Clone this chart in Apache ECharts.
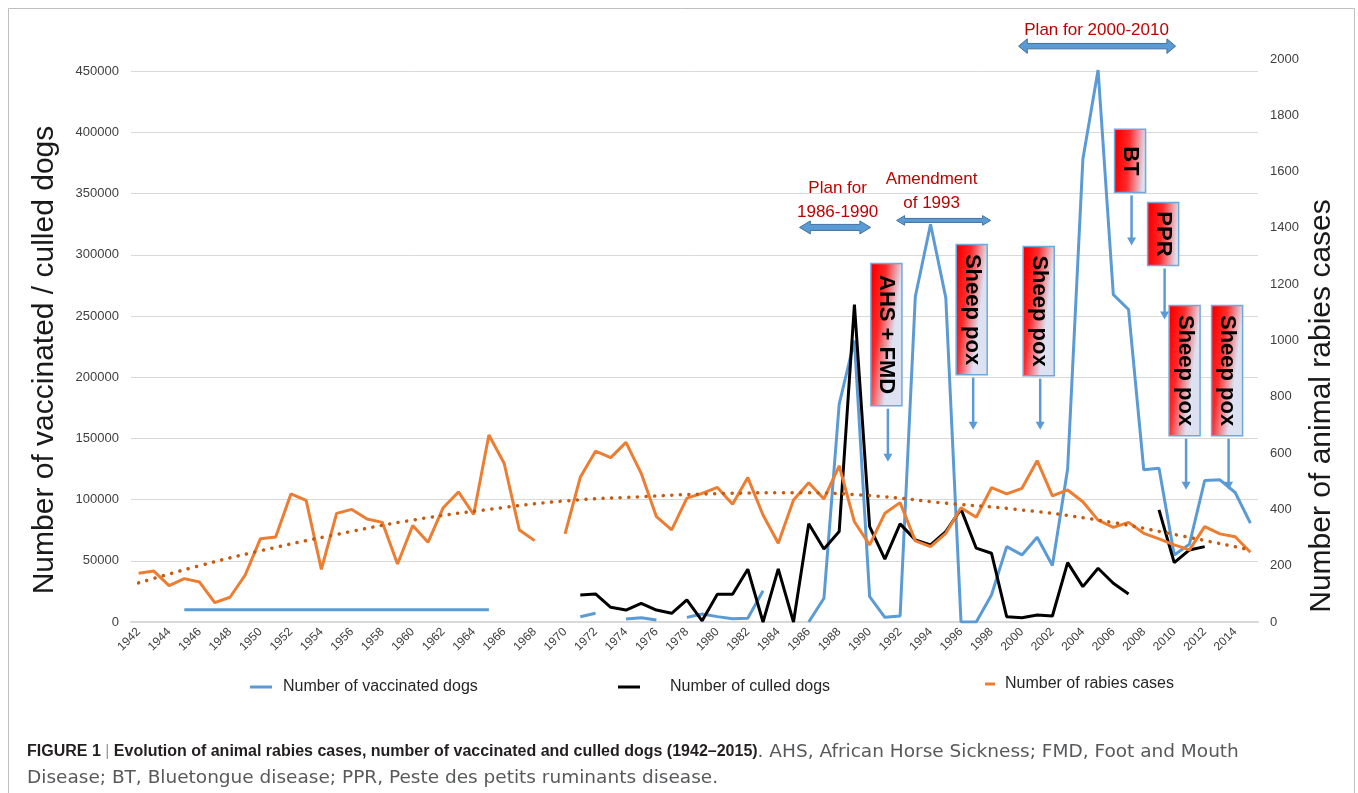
<!DOCTYPE html>
<html>
<head>
<meta charset="utf-8">
<title>Animal rabies cases, vaccinated and culled dogs</title>
<script src="https://cdn.jsdelivr.net/npm/echarts@6/dist/echarts.min.js"></script>
<style>
  html, body { margin: 0; padding: 0; background: #fff; }
  #chart { width: 1358px; height: 793px; }
</style>
</head>
<body>
<div id="chart"></div>
<script>
// years on the x axis
var years = [];
for (var y = 1942; y <= 2015; y++) years.push(String(y));

// number of vaccinated dogs (left axis)
var vaccinated = [
  null, null, null,
  10000, 10000, 10000, 10000, 10000, 10000, 10000, 10000, 10000, 10000, 10000,
  10000, 10000, 10000, 10000, 10000, 10000, 10000, 10000, 10000, 10000,
  null, null, null, null, null,
  4300, 7100, null, 2500, 3500, 1600, null, 3800, 6500, 4400, 2700, 3000, 25600,
  null, null, 0, 19400, 178000, 230000, 20700, 3800, 4900, 266000, 325000, 265000,
  0, 0, 22000, 61600, 54800, 69300, 46100, 125000, 378000, 451000, 267500, 255300,
  124400, 125700, 54800, 63600, 115600, 116200, 105800, 80800
];

// number of culled dogs (left axis)
var culled = [
  null, null, null, null, null, null, null, null, null, null,
  null, null, null, null, null, null, null, null, null, null,
  null, null, null, null, null, null, null, null, null,
  22100, 22900, 12000, 9800, 15300, 9800, 7100, 18000, 1000, 22700, 22700, 43100,
  0, 43400, 0, 80200, 59700, 73900, 259400, 78000, 51300, 80200, 67100, 63000, 73900,
  92200, 60300, 56200, 4300, 3500, 5700, 4900, 48500, 28900, 43900, 31700, 22900,
  null, 91600, 48500, 58900, 61600, null, null, null
];

// number of animal rabies cases (right axis)
var rabies = [
  173, 181, 129, 154, 142, 69, 88, 167, 296, 302, 455, 432, 187, 386, 400, 366, 354,
  206, 343, 283, 406, 462, 382, 664, 564, 327, 289, null,
  313, 514, 607, 584, 638, 528, 374, 327, 440, 457, 478, 418, 513, 380, 280, 433,
  495, 437, 555, 356, 274, 386, 424, 288, 268, 315, 406, 372, 477, 455, 475, 573,
  448, 469, 427, 362, 336, 354, 315, 295, 274, 256, 339, 313, 303, 248
];

// dotted trend of rabies cases, read at a few years
var trendYears = ['1942', '1946', '1950', '1955', '1960', '1965', '1970', '1975',
  '1980', '1985', '1990', '1995', '2000', '2005', '2010', '2015'];
var trendValues = [139, 200, 253, 311, 362, 400, 430, 445, 456, 459, 449, 422, 398, 362, 311, 256];

// disease boxes: label, year of centre, top / bottom / arrow tip (left axis units)
var boxLabels = ['AHS + FMD', 'Sheep pox', 'Sheep pox', 'BT', 'PPR', 'Sheep pox', 'Sheep pox'];
var boxYears = [1991.1, 1996.7, 2001.1, 2007.1, 2009.27, 2010.68, 2013.47];
var boxTop = [292900, 308500, 306800, 402600, 342800, 258600, 258600];
var boxBottom = [176700, 202100, 201300, 351000, 291300, 152200, 152200];
var boxArrowTip = [130900, 157100, 157100, 307600, 247100, 108000, 108000];

// control plans: label, arrow span, arrow level, text centre
var planLabels = ['Plan for\n1986-1990', 'Amendment\nof 1993', 'Plan for 2000-2010'];
var planFrom = [1985.4, 1991.77, 1999.78];
var planTo = [1990.06, 1997.94, 2010.09];
var planLevel = [322400, 328100, 470500];
var planTextYear = [1987.9, 1994.07, 2004.9];
var planTextLevel = [344900, 352200, 483600];

var font = 'Liberation Sans, Arial, sans-serif';

let chartDom = document.getElementById('chart');
let myChart = echarts.init(chartDom);

var option = {
  animation: false,
  backgroundColor: '#fff',
  title: {
    left: 22,
    top: 734,
    text: '{b|FIGURE 1 }{s||}{b| Evolution of animal rabies cases, number of vaccinated and culled dogs (1942\u20132015)}{n|. AHS, African Horse Sickness; FMD, Foot and Mouth}\n{n|Disease; BT, Bluetongue disease; PPR, Peste des petits ruminants disease.}',
    textStyle: {
      rich: {
        b: { fontFamily: font, fontSize: 16, fontWeight: 'bold', color: '#231f20', lineHeight: 26 },
        n: { fontFamily: 'DejaVu Sans, sans-serif', fontSize: 18.5, fontWeight: 'normal', color: '#58595b', lineHeight: 26 },
        s: { fontFamily: font, fontSize: 16, fontWeight: 'normal', color: '#9a9a9a', lineHeight: 26 }
      }
    }
  },
  legend: [
    {
      data: ['Number of vaccinated dogs'], left: 245, top: 674, icon: 'rect',
      itemWidth: 22, itemHeight: 3,
      textStyle: { fontFamily: font, fontSize: 16, color: '#262626', padding: [0, 0, 0, 6] }
    },
    {
      data: ['Number of culled dogs'], left: 613, top: 674, icon: 'rect',
      itemWidth: 22, itemHeight: 3,
      textStyle: { fontFamily: font, fontSize: 16, color: '#262626', padding: [0, 0, 0, 25] }
    },
    {
      data: ['Number of rabies cases'], left: 980, top: 671, icon: 'rect',
      itemWidth: 10, itemHeight: 3,
      textStyle: { fontFamily: font, fontSize: 16, color: '#262626', padding: [0, 0, 0, 5] }
    }
  ],
  grid: { left: 131, right: 100, top: 59, bottom: 171 },
  xAxis: {
    type: 'category',
    data: years,
    boundaryGap: true,
    axisTick: { show: false },
    axisLine: { lineStyle: { color: '#d9d9d9', width: 2 } },
    axisLabel: { interval: 1, rotate: 45, fontFamily: font, fontSize: 12, color: '#404040', margin: 8 }
  },
  yAxis: [
    {
      type: 'value', position: 'left', min: 0, max: 460000, interval: 50000,
      axisLine: { show: false }, axisTick: { show: false },
      axisLabel: {
        fontFamily: font, fontSize: 13, color: '#404040', margin: 12,
        formatter: function (v) { return v > 450000 ? '' : String(v); }
      },
      splitLine: { lineStyle: { color: '#d9d9d9', width: 1 }, showMaxLine: false }
    },
    {
      type: 'value', position: 'right', min: 0, max: 2000, interval: 200,
      axisLine: { show: false }, axisTick: { show: false },
      axisLabel: {
        fontFamily: font, fontSize: 13, color: '#404040', margin: 12,
        formatter: function (v) { return String(v); }
      },
      splitLine: { show: false }
    }
  ],
  series: [
    {
      name: 'Number of vaccinated dogs', type: 'line', yAxisIndex: 0, data: vaccinated,
      symbol: 'none', connectNulls: false, color: '#5b9bd5',
      lineStyle: { width: 3, color: '#5b9bd5' }, z: 2
    },
    {
      name: 'Number of culled dogs', type: 'line', yAxisIndex: 0, data: culled,
      symbol: 'none', connectNulls: false, color: '#000',
      lineStyle: { width: 3, color: '#000' }, z: 3
    },
    {
      name: 'Number of rabies cases', type: 'line', yAxisIndex: 1, data: rabies,
      symbol: 'none', connectNulls: false, color: '#ed7d31',
      lineStyle: { width: 3, color: '#ed7d31' }, z: 4
    },
    {
      name: 'trend', type: 'line', yAxisIndex: 1,
      data: trendYears.map(function (yr, i) { return [yr, trendValues[i]]; }),
      symbol: 'none', smooth: true, connectNulls: true, color: '#c55a11',
      lineStyle: { width: 3.5, color: '#c55a11', type: [0.1, 8.5], cap: 'round' }, z: 5
    }
  ]
};
myChart.setOption(option);

// annotations placed through the axes
var x0 = myChart.convertToPixel({ xAxisIndex: 0 }, years[0]);
var x1 = myChart.convertToPixel({ xAxisIndex: 0 }, years[years.length - 1]);
var band = (x1 - x0) / (years.length - 1);
function xAt(yr) { return x0 + (yr - 1942) * band; }
function yAt(v) { return myChart.convertToPixel({ yAxisIndex: 0 }, v); }

var blue = '#5b9bd5';
var graphics = [];

// outer frame
graphics.push({
  type: 'rect', silent: true, z: 0,
  shape: { x: 8.5, y: 8.5, width: 1346, height: 820 },
  style: { fill: null, stroke: '#bfbfbf', lineWidth: 1 }
});

// axis titles
graphics.push({
  type: 'text', x: 45, y: 360, rotation: Math.PI / 2,
  style: { text: 'Number of vaccinated / culled dogs', font: '30px ' + font, fill: '#1a1a1a', align: 'center', verticalAlign: 'middle' }
});
graphics.push({
  type: 'text', x: 1322, y: 406, rotation: Math.PI / 2,
  style: { text: 'Number of animal rabies cases', font: '30px ' + font, fill: '#1a1a1a', align: 'center', verticalAlign: 'middle' }
});

// double arrows for the plans
var shaft = [3, 2, 2.7], head = [6.5, 4.8, 7.3], headLen = [10.7, 8, 8.7];
planLabels.forEach(function (label, i) {
  var a = xAt(planFrom[i]), b = xAt(planTo[i]), c = yAt(planLevel[i]);
  var s = shaft[i], h = head[i], L = headLen[i];
  graphics.push({
    type: 'polygon', z: 10,
    shape: { points: [[a, c], [a + L, c - h], [a + L, c - s], [b - L, c - s], [b - L, c - h],
      [b, c], [b - L, c + h], [b - L, c + s], [a + L, c + s], [a + L, c + h]] },
    style: { fill: blue, stroke: '#41719c', lineWidth: 1 }
  });
  graphics.push({
    type: 'text', z: 10, x: xAt(planTextYear[i]), y: yAt(planTextLevel[i]),
    style: { text: label, font: '17px ' + font, fill: '#c00000', align: 'center', verticalAlign: 'middle', lineHeight: 24 }
  });
});

// disease boxes with arrows
boxLabels.forEach(function (label, i) {
  var cx = xAt(boxYears[i]), top = yAt(boxTop[i]), bottom = yAt(boxBottom[i]), tip = yAt(boxArrowTip[i]);
  var w = 31;
  graphics.push({
    type: 'rect', z: 10,
    shape: { x: cx - w / 2, y: top, width: w, height: bottom - top },
    style: {
      fill: new echarts.graphic.LinearGradient(0, 0, 1, 0.03, [
        { offset: 0, color: '#f5002a' },
        { offset: 0.12, color: '#ff0000' },
        { offset: 0.5, color: '#ff2a2a' },
        { offset: 1, color: '#dde2f2' }
      ]),
      stroke: '#6fa8dc', lineWidth: 1.5
    }
  });
  graphics.push({
    type: 'text', z: 11, x: cx, y: (top + bottom) / 2, rotation: -Math.PI / 2,
    style: { text: label, font: 'bold 22px ' + font, fill: '#000', align: 'center', verticalAlign: 'middle' }
  });
  graphics.push({
    type: 'line', z: 10,
    shape: { x1: cx + 1.5, y1: bottom + 3, x2: cx + 1.5, y2: tip - 6 },
    style: { stroke: blue, lineWidth: 2.5 }
  });
  graphics.push({
    type: 'polygon', z: 10,
    shape: { points: [[cx + 1.5 - 4.5, tip - 8], [cx + 1.5 + 4.5, tip - 8], [cx + 1.5, tip]] },
    style: { fill: blue }
  });
});

myChart.setOption({ graphic: graphics });
</script>
</body>
</html>
